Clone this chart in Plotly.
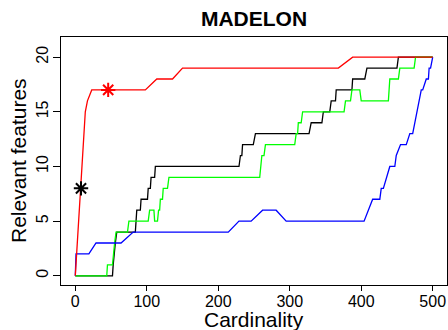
import plotly.graph_objects as go

# ---- data ----
red_x = [0, 1, 2, 3, 4, 5, 6, 7, 8, 9, 10, 11, 12, 13, 14, 17, 23, 98, 114, 136, 150, 368, 388, 500]
red_y = [0, 1, 2, 3, 5, 6, 7, 8, 9, 10, 11, 12, 13, 14, 15, 16, 17, 17, 18, 18, 19, 19, 20, 20]

black_x = [0, 52, 53, 54, 56, 58, 84, 86, 91, 92, 101, 102, 105, 106, 111, 112, 229, 231, 233, 234,
           249, 252, 327, 330, 345, 347, 356, 358, 364, 365, 387, 388, 405, 408, 450, 452, 500]
black_y = [0, 0, 1, 2, 3, 4, 4, 6, 6, 7, 7, 8, 8, 9, 9, 10, 10, 11, 11, 12,
           12, 13, 13, 14, 14, 15, 15, 16, 16, 17, 17, 18, 18, 19, 19, 20, 20]

green_x = [0, 44, 45, 52, 55, 57, 73, 75, 102, 104, 110, 111, 115, 116.5, 118, 119, 122, 123, 129, 131,
           258, 261, 264, 266, 307, 309, 311, 312, 316, 318, 376, 378, 385, 387, 398, 400,
           438, 440, 452, 454, 474, 476, 500]
green_y = [0, 0, 1, 1, 3, 4, 4, 5, 5, 6, 6, 5, 5, 6, 6, 7, 7, 8, 8, 9,
           9, 11, 11, 12, 12, 13, 13, 14, 14, 15, 15, 16, 16, 17, 17, 16,
           16, 18, 18, 19, 19, 20, 20]

blue_x = [0, 1, 19, 29, 64, 81, 214, 229, 246, 262, 281, 295, 404, 416, 426, 428, 431, 440, 447, 449,
          455, 463, 468, 472, 484, 486, 491, 494, 495, 497, 500]
blue_y = [0, 2, 2, 3, 3, 4, 4, 5, 5, 6, 6, 5, 5, 7, 7, 8, 8, 10, 10, 11,
          12, 12, 13, 13, 17, 17, 18, 18, 19, 19, 20]

star_black_x = [8]
star_black_y = [8]
star_red_x = [46]
star_red_y = [17]

x_ticks = [0, 100, 200, 300, 400, 500]
y_ticks = [0, 5, 10, 15, 20]

title_text = "MADELON"
x_label = "Cardinality"
y_label = "Relevant features"

FONT = "Liberation Sans, Arial, Helvetica, sans-serif"
LW = 1.3

fig = go.Figure()
for xs, ys, col in [(black_x, black_y, "#000000"),
                    (green_x, green_y, "#00FF00"),
                    (blue_x, blue_y, "#0000FF"),
                    (red_x, red_y, "#FF0000")]:
    fig.add_trace(go.Scatter(x=xs, y=ys, mode="lines",
                             line=dict(color=col, width=LW), showlegend=False,
                             hoverinfo="skip"))

fig.add_trace(go.Scatter(x=star_black_x, y=star_black_y, mode="markers",
                         marker=dict(symbol="asterisk-open", size=12, color="#000000",
                                     line=dict(color="#000000", width=2)),
                         showlegend=False))
fig.add_trace(go.Scatter(x=star_red_x, y=star_red_y, mode="markers",
                         marker=dict(symbol="asterisk-open", size=12, color="#FF0000",
                                     line=dict(color="#FF0000", width=2)),
                         showlegend=False))

axis_common = dict(showgrid=False, zeroline=False, showline=True, mirror=True,
                   linecolor="#000000", linewidth=1, ticks="outside",
                   tickcolor="#000000", tickwidth=1,
                   tickfont=dict(family=FONT, size=16, color="#000000"))

fig.update_xaxes(range=[-20, 520], tickvals=x_ticks, ticklen=5, ticklabelstandoff=-3,
                 **axis_common)
fig.update_yaxes(range=[-0.84, 21.84], tickvals=y_ticks, ticklen=7, tickangle=-90,
                 ticklabelstandoff=-1, **axis_common)

fig.update_layout(
    width=448, height=330,
    margin=dict(l=61, r=1, t=37, b=45, pad=0),
    paper_bgcolor="white", plot_bgcolor="white",
    title=dict(text="<b>" + title_text + "</b>", x=254 / 448, xanchor="center",
               y=1 - 19 / 330, yanchor="middle", yref="container",
               font=dict(family=FONT, size=21, color="#000000")),
    annotations=[
        dict(text=x_label, xref="paper", yref="paper", x=0.5, y=0,
             xanchor="center", yanchor="middle", yshift=-34, showarrow=False,
             font=dict(family=FONT, size=21, color="#000000")),
        dict(text=y_label, xref="paper", yref="paper", x=0, y=0.5,
             xanchor="center", yanchor="middle", xshift=-43, textangle=-90,
             showarrow=False, font=dict(family=FONT, size=21, color="#000000")),
    ],
)

fig.write_html("out.html")
